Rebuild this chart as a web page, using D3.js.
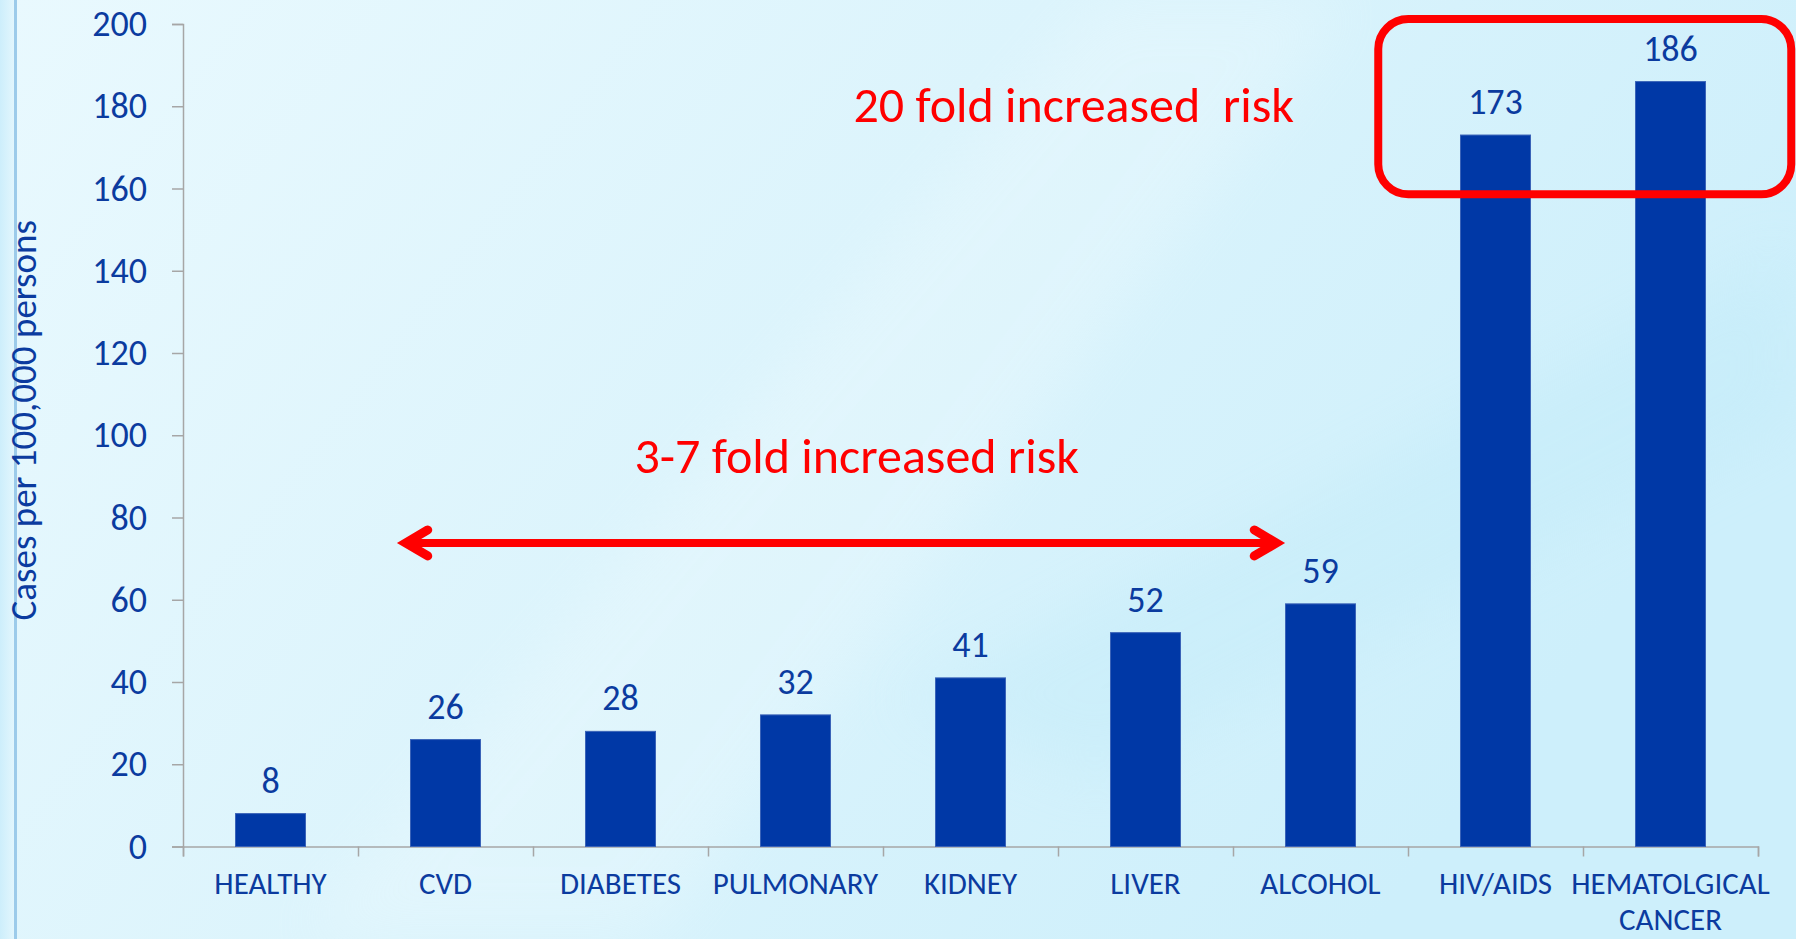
<!DOCTYPE html>
<meta charset="utf-8">
<head>
  <style>
    html, body { margin: 0; padding: 0; overflow: hidden; }
    body { width: 1796px; height: 939px; }
    svg text { font-family: Carlito, Calibri, Lato, sans-serif; }
  </style>
  <script src="https://cdn.jsdelivr.net/npm/d3@7"></script>
</head>
<body>
<div id="chart"></div>
<script>
  // *** chart data
  var categories = ["HEALTHY", "CVD", "DIABETES", "PULMONARY", "KIDNEY", "LIVER", "ALCOHOL", "HIV/AIDS", "HEMATOLGICAL CANCER"];
  var cases = [8, 26, 28, 32, 41, 52, 59, 173, 186];
  var yTicks = [0, 20, 40, 60, 80, 100, 120, 140, 160, 180, 200];
  var yTitle = "Cases per 100,000 persons";
  var noteLow = "3-7 fold increased risk";
  var noteHigh = "20 fold increased  risk";

  var W = 1796, H = 939;
  var margin = { top: 24, right: 38, bottom: 92.5, left: 183 };
  var width = W - margin.left - margin.right,
      height = H - margin.top - margin.bottom;

  var blue = "#0038a6", textBlue = "#0b3b9f", red = "#ff0000", grey = "#a6a6a6";

  var svg = d3.select("#chart").append("svg")
    .attr("width", W)
    .attr("height", H);

  // *** background
  var defs = svg.append("defs");
  var bg = defs.append("linearGradient").attr("id", "bg")
    .attr("x1", 0).attr("y1", 0).attr("x2", 1).attr("y2", 0.4);
  bg.append("stop").attr("offset", 0).attr("stop-color", "#e9f9fe");
  bg.append("stop").attr("offset", 0.5).attr("stop-color", "#dcf4fc");
  bg.append("stop").attr("offset", 1).attr("stop-color", "#cdeffb");
  var edge = defs.append("linearGradient").attr("id", "edge")
    .attr("x1", 0).attr("y1", 0).attr("x2", 1).attr("y2", 0);
  edge.append("stop").attr("offset", 0).attr("stop-color", "#cdeefb");
  edge.append("stop").attr("offset", 1).attr("stop-color", "#e2f6fd");
  defs.append("filter").attr("id", "soft")
    .append("feGaussianBlur").attr("stdDeviation", 30);

  svg.append("rect").attr("width", W).attr("height", H).attr("fill", "url(#bg)");
  // faint diagonal light streaks
  svg.append("path")
    .attr("d", "M300,939 L1100,0 L1350,0 L650,939 Z")
    .attr("fill", "#ffffff").attr("opacity", 0.18).attr("filter", "url(#soft)");
  svg.append("path")
    .attr("d", "M900,700 L1796,250 L1796,420 L1100,780 Z")
    .attr("fill", "#bfeaf8").attr("opacity", 0.35).attr("filter", "url(#soft)");
  svg.append("rect").attr("width", 14).attr("height", H).attr("fill", "url(#edge)");
  svg.append("rect").attr("x", 14).attr("width", 3).attr("height", H).attr("fill", "#9ccbea");

  var g = svg.append("g")
    .attr("transform", "translate(" + margin.left + "," + margin.top + ")");

  // *** scales
  var x = d3.scaleBand()
    .domain(categories)
    .range([0, width])
    .paddingInner(0.6)
    .paddingOuter(0.3);

  // category boundaries, 0..9, also used for the annotations
  var xb = d3.scaleLinear()
    .domain([0, categories.length])
    .range([0, width]);

  var y = d3.scaleLinear()
    .domain([0, 200])
    .range([height, 0]);

  // *** y axis
  var yAxis = g.append("g")
    .attr("class", "y axis")
    .call(d3.axisLeft(y).tickValues(yTicks).tickSize(11).tickPadding(25));
  yAxis.select(".domain").attr("stroke", grey).attr("stroke-width", 1.5);
  yAxis.selectAll(".tick line").attr("stroke", grey).attr("stroke-width", 1.5);
  yAxis.selectAll(".tick text")
    .attr("fill", textBlue)
    .style("font-size", "36px");

  // *** x axis (ticks on category boundaries)
  var xAxis = g.append("g")
    .attr("class", "x axis")
    .attr("transform", "translate(0," + height + ")")
    .call(d3.axisBottom(xb).ticks(categories.length).tickSize(10).tickFormat(""));
  xAxis.select(".domain").attr("stroke", grey).attr("stroke-width", 1.5);
  xAxis.selectAll(".tick line").attr("stroke", grey).attr("stroke-width", 1.5);

  var xLabels = g.append("g").selectAll("text")
    .data(categories)
    .enter().append("text")
    .attr("x", function(d) { return x(d) + x.bandwidth() / 2; })
    .attr("y", height + 47)
    .attr("text-anchor", "middle")
    .attr("fill", textBlue)
    .style("font-size", "31px");
  xLabels.each(function(d) {
    var t = d3.select(this);
    d.split(" ").forEach(function(word, i) {
      t.append("tspan")
        .attr("x", x(d) + x.bandwidth() / 2)
        .attr("dy", i === 0 ? 0 : 36.5)
        .text(word);
    });
  });

  // y title
  g.append("text")
    .attr("transform", "translate(" + (-147) + "," + (height / 2 - 15) + ") rotate(-90)")
    .attr("text-anchor", "middle")
    .attr("fill", textBlue)
    .style("font-size", "37px")
    .text(yTitle);

  // *** bars
  g.selectAll(".bar")
    .data(cases)
    .enter().append("rect")
    .attr("class", "bar")
    .attr("x", function(d, i) { return x(categories[i]); })
    .attr("y", function(d) { return y(d); })
    .attr("width", x.bandwidth())
    .attr("height", function(d) { return height - y(d); })
    .attr("fill", blue)
    .attr("stroke", "#3a63b8")
    .attr("stroke-width", 1);

  g.selectAll(".val")
    .data(cases)
    .enter().append("text")
    .attr("class", "val")
    .attr("x", function(d, i) { return x(categories[i]) + x.bandwidth() / 2; })
    .attr("y", function(d) { return y(d) - 21; })
    .attr("text-anchor", "middle")
    .attr("fill", textBlue)
    .style("font-size", "36px")
    .text(function(d) { return d; });

  // *** annotations
  var arrowY = y(73.8);
  var ax0 = xb(1.25), ax1 = xb(6.27);
  g.append("line")
    .attr("x1", ax0 + 4).attr("x2", ax1 - 4)
    .attr("y1", arrowY).attr("y2", arrowY)
    .attr("stroke", red).attr("stroke-width", 8);
  [[ax0, 1], [ax1, -1]].forEach(function(a) {
    g.append("path")
      .attr("d", "M" + (a[0] + a[1] * 26) + "," + (arrowY - 13) +
                 "L" + (a[0] + a[1] * 4) + "," + arrowY +
                 "L" + (a[0] + a[1] * 26) + "," + (arrowY + 13))
      .attr("fill", "none")
      .attr("stroke", red)
      .attr("stroke-width", 9)
      .attr("stroke-linecap", "round")
      .attr("stroke-linejoin", "miter");
  });

  g.append("text")
    .attr("x", xb(3.85)).attr("y", y(90.8))
    .attr("text-anchor", "middle")
    .attr("fill", red)
    .style("font-size", "50px")
    .text(noteLow);

  g.append("text")
    .attr("x", xb(5.09)).attr("y", y(176.2))
    .attr("text-anchor", "middle")
    .attr("fill", red)
    .style("font-size", "50px")
    .style("white-space", "pre")
    .attr("xml:space", "preserve")
    .text(noteHigh);

  g.append("rect")
    .attr("x", xb(6.83)).attr("y", y(201.2))
    .attr("width", xb(9.19) - xb(6.83))
    .attr("height", y(158.6) - y(201.2))
    .attr("rx", 30)
    .attr("fill", "none")
    .attr("stroke", red)
    .attr("stroke-width", 8);
</script>
</body>
